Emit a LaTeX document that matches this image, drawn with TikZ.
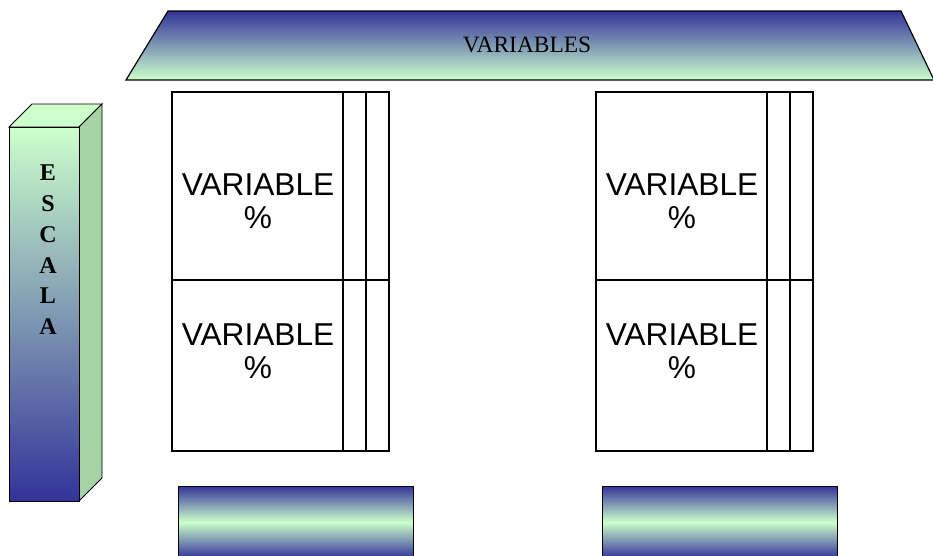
\documentclass[tikz,border=0pt]{standalone}
\usepackage{fontspec}
\setmainfont{Liberation Serif}
\newfontfamily\arialfont{Liberation Sans}
\usetikzlibrary{positioning}

\definecolor{escblue}{RGB}{51,51,153}
\definecolor{escgreen}{RGB}{204,255,204}
\definecolor{sidegreen}{RGB}{166,211,166}

\tikzset{
  caja/.style={draw=black, line width=1.3pt},
  var/.style={align=center, font=\arialfont\fontsize{27}{28}\selectfont},
  letra/.style={font=\bfseries\fontsize{20.5}{21}\selectfont},
  barra/.style={draw=black, line width=0.8pt, top color=escblue, bottom color=escblue, middle color=escgreen}
}

\begin{document}
\begin{tikzpicture}[x=0.03cm, y=-0.03cm]
        \useasboundingbox (0,0) rectangle (933,555);

        % titulo
        \coordinate (t1) at (126,80);
        \coordinate (t2) at (168,11);
        \coordinate (t3) at (901,11);
        \coordinate (t4) at (934,80);
        \shadedraw[top color=escblue, bottom color=escgreen, line width=1pt] (t1) -- (t2) -- (t3) -- (t4) -- cycle;
        \node (titulo) at (527,45) {\fontsize{20}{24}\selectfont VARIABLES};

        % escala
        \coordinate (e1) at (9,127);
        \coordinate (e2) at (79,127);
        \coordinate (e3) at (79,501);
        \coordinate (e4) at (9,501);
        \coordinate (e5) at (32,104);
        \coordinate (e6) at (102,104);
        \coordinate (e7) at (102,478);
        \filldraw[fill=escgreen, line width=0.8pt] (e1) -- (e5) -- (e6) -- (e2) -- cycle;
        \filldraw[fill=sidegreen, line width=0.8pt] (e2) -- (e6) -- (e7) -- (e3) -- cycle;
        \shadedraw[top color=escgreen, bottom color=escblue, line width=0.8pt] (e1) rectangle (e3);
        \foreach \l [count=\i] in {E,S,C,A,L,A}
          \node[letra] (l\i) at (48, 142+30.8*\i) {\l};

        % cajas
        \foreach \x [count=\k] in {172,596} {
          \draw[caja] (\x,92) rectangle ++(217,359);
          \draw[caja] (\x,280) -- ++(217,0);
          \draw[caja] (\x+171,92) -- ++(0,359);
          \draw[caja] (\x+194,92) -- ++(0,359);
          \node[var] (v\k-a) at (\x+86,201) {VARIABLE\\\%};
          \node[var] (v\k-b) at (\x+86,351) {VARIABLE\\\%};
          \shadedraw[barra] (\x+6,486) rectangle ++(235,72);
        }
    \end{tikzpicture}
\end{document}
